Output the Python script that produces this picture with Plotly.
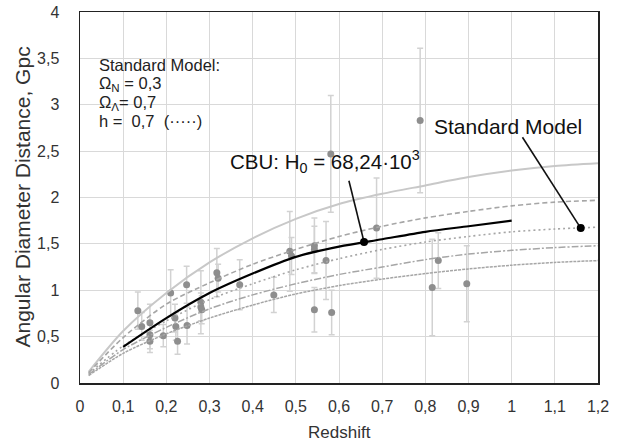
import plotly.graph_objects as go

# ---------------- data ----------------
z_curve = [0.02, 0.1, 0.2, 0.3, 0.4, 0.5, 0.6, 0.7, 0.8, 0.9, 1.0, 1.1, 1.2]
model_a = [0.12, 0.56, 0.97, 1.30, 1.56, 1.77, 1.93, 2.04, 2.13, 2.22, 2.29, 2.34, 2.37]   # solid light grey
model_b = [0.11, 0.49, 0.85, 1.08, 1.28, 1.44, 1.58, 1.69, 1.78, 1.85, 1.91, 1.95, 1.97]   # dashed
model_c = [0.10, 0.40, 0.67, 0.90, 1.07, 1.22, 1.34, 1.44, 1.52, 1.58, 1.63, 1.66, 1.68]   # dotted (standard)
model_d = [0.09, 0.36, 0.60, 0.80, 0.95, 1.07, 1.17, 1.25, 1.33, 1.39, 1.43, 1.46, 1.48]   # dash-dot
model_e = [0.08, 0.32, 0.53, 0.70, 0.84, 0.96, 1.05, 1.12, 1.18, 1.23, 1.27, 1.30, 1.32]   # fine dash

z_cbu = [0.1, 0.2, 0.3, 0.4, 0.5, 0.6, 0.7, 0.8, 0.9, 1.0]
d_cbu = [0.39, 0.70, 0.97, 1.18, 1.36, 1.47, 1.55, 1.63, 1.69, 1.75]

z_obs = [0.134, 0.143, 0.162, 0.162, 0.162, 0.193, 0.21, 0.22, 0.222, 0.226, 0.247, 0.248,
         0.28, 0.28, 0.282, 0.317, 0.32, 0.37, 0.449, 0.486, 0.49, 0.543, 0.543, 0.543,
         0.57, 0.583, 0.581, 0.687, 0.788, 0.816, 0.83, 0.896]
d_obs = [0.78, 0.61, 0.65, 0.52, 0.45, 0.51, 0.97, 0.70, 0.61, 0.45, 1.06, 0.62,
         0.87, 0.82, 0.79, 1.19, 1.13, 1.06, 0.95, 1.42, 1.37, 1.48, 1.44, 0.79,
         1.32, 0.76, 2.47, 1.67, 2.83, 1.03, 1.32, 1.07]
e_obs = [0.20, 0.15, 0.20, 0.15, 0.12, 0.12, 0.25, 0.15, 0.15, 0.14, 0.20, 0.20,
         0.34, 0.15, 0.15, 0.26, 0.15, 0.27, 0.19, 0.43, 0.20, 0.30, 0.25, 0.24,
         0.42, 0.24, 0.63, 0.54, 0.78, 0.52, 0.30, 0.41]

x_ticks = [0, 0.1, 0.2, 0.3, 0.4, 0.5, 0.6, 0.7, 0.8, 0.9, 1, 1.1, 1.2]
y_ticks = [0, 0.5, 1, 1.5, 2, 2.5, 3, 3.5, 4]

cbu_point = (0.658, 1.52)
cbu_label = (0.343, 2.39)
cbu_leader_start = (0.623, 2.18)
sm_point = (1.16, 1.67)
sm_label = (0.815, 2.77)
sm_leader_start = (1.025, 2.65)

info_lines = ["Standard Model:", "Ω<sub>N</sub> = 0,3", "Ω<sub>Λ</sub>= 0,7", "h =  0,7  (·····)"]
info_y = [3.43, 3.22, 3.02, 2.82]

FONT = "Liberation Sans, Arial, Helvetica, sans-serif"

fig = go.Figure()

# observations with error bars
fig.add_trace(go.Scatter(
    x=z_obs, y=d_obs, mode="markers",
    marker=dict(color="#8e8e8e", size=7),
    error_y=dict(type="data", array=e_obs, color="#d2d2d2", thickness=1.5, width=3),
    showlegend=False, hoverinfo="skip"))

# model curves
sp = dict(shape="spline", smoothing=0.8)
fig.add_trace(go.Scatter(x=z_curve, y=model_a, mode="lines", line=dict(color="#c8c8c8", width=2, **sp), showlegend=False))
fig.add_trace(go.Scatter(x=z_curve, y=model_b, mode="lines", line=dict(color="#a6a6a6", width=1.6, dash="5px,3px", **sp), showlegend=False))
fig.add_trace(go.Scatter(x=z_curve, y=model_c, mode="lines", line=dict(color="#a6a6a6", width=1.6, dash="2px,3px", **sp), showlegend=False))
fig.add_trace(go.Scatter(x=z_curve, y=model_d, mode="lines", line=dict(color="#a6a6a6", width=1.5, dash="7px,2px,2px,2px", **sp), showlegend=False))
fig.add_trace(go.Scatter(x=z_curve, y=model_e, mode="lines", line=dict(color="#a6a6a6", width=1.5, dash="3px,1px", **sp), showlegend=False))

# CBU curve
fig.add_trace(go.Scatter(x=z_cbu, y=d_cbu, mode="lines", line=dict(color="#000000", width=2.2, **sp), showlegend=False))

# leader lines + dots
fig.add_trace(go.Scatter(x=[cbu_leader_start[0], cbu_point[0]], y=[cbu_leader_start[1], cbu_point[1]],
                         mode="lines", line=dict(color="#111111", width=1.6), showlegend=False))
fig.add_trace(go.Scatter(x=[sm_leader_start[0], sm_point[0]], y=[sm_leader_start[1], sm_point[1]],
                         mode="lines", line=dict(color="#111111", width=1.6), showlegend=False))
fig.add_trace(go.Scatter(x=[cbu_point[0], sm_point[0]], y=[cbu_point[1], sm_point[1]],
                         mode="markers", marker=dict(color="#000000", size=8), showlegend=False))

fig.add_annotation(x=cbu_label[0], y=cbu_label[1], xref="x", yref="y", xanchor="left", yanchor="middle",
                   text="CBU: H<sub>0</sub> = 68,24·10<sup>3</sup>", showarrow=False,
                   font=dict(family=FONT, size=20.5, color="#111111"))
fig.add_annotation(x=sm_label[0], y=sm_label[1], xref="x", yref="y", xanchor="left", yanchor="middle",
                   text="Standard Model", showarrow=False,
                   font=dict(family=FONT, size=21, color="#111111"))
for txt, yy in zip(info_lines, info_y):
    fig.add_annotation(x=0.04, y=yy, xref="x", yref="y", xanchor="left", yanchor="middle", align="left",
                       text=txt, showarrow=False, font=dict(family=FONT, size=16.5, color="#222222"))

# axis titles
fig.add_annotation(x=0.5, y=0, xref="paper", yref="paper", yshift=-49, xanchor="center", yanchor="middle",
                   text="Redshift", showarrow=False, font=dict(family=FONT, size=17, color="#333333"))
fig.add_annotation(x=0, y=0.5, xref="paper", yref="paper", xshift=-58, xanchor="center", yanchor="middle",
                   textangle=-90, text="Angular Diameter Distance, Gpc", showarrow=False,
                   font=dict(family=FONT, size=21, color="#333333"))

axis_common = dict(showgrid=True, gridcolor="#d9d9d9", gridwidth=1, zeroline=False,
                   showline=True, linecolor="#222222", linewidth=1.5, mirror=True,
                   tickfont=dict(family=FONT, size=16, color="#333333"), ticks="", automargin=False)

fig.update_xaxes(range=[0, 1.2], tickvals=x_ticks, ticklabelstandoff=8, **axis_common)
fig.update_yaxes(range=[0, 4], tickvals=y_ticks, ticklabelstandoff=16, **axis_common)

fig.update_layout(
    width=618, height=443,
    margin=dict(l=80, r=20, t=12, b=60),
    paper_bgcolor="white", plot_bgcolor="white",
    separators=", ",
    font=dict(family=FONT),
)

# remove the page's default body margin so the figure sits at the window's corner
fig.write_html("out.html", config={"displayModeBar": False, "staticPlot": True},
               post_script="document.body.style.margin='0';document.body.style.overflow='hidden';")
